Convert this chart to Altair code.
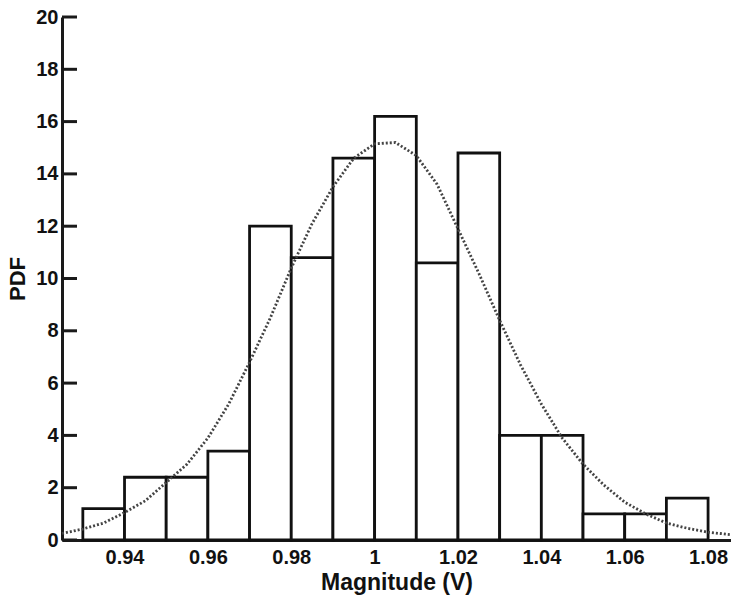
import altair as alt
import pandas as pd

bin_start = [0.93, 0.94, 0.95, 0.96, 0.97, 0.98, 0.99, 1.00, 1.01, 1.02, 1.03, 1.04, 1.05, 1.06, 1.07]
bin_end = [0.94, 0.95, 0.96, 0.97, 0.98, 0.99, 1.00, 1.01, 1.02, 1.03, 1.04, 1.05, 1.06, 1.07, 1.08]
pdf_values = [1.2, 2.4, 2.4, 3.4, 12.0, 10.8, 14.6, 16.2, 10.6, 14.8, 4.0, 4.0, 1.0, 1.0, 1.6]

curve_x = [0.925, 0.930, 0.935, 0.940, 0.945, 0.950, 0.955, 0.960, 0.965, 0.970, 0.975,
           0.980, 0.985, 0.990, 0.995, 1.000, 1.005, 1.010, 1.015, 1.020, 1.025, 1.030,
           1.035, 1.040, 1.045, 1.050, 1.055, 1.060, 1.065, 1.070, 1.075, 1.080, 1.0855]
curve_y = [0.25, 0.42, 0.65, 1.05, 1.5, 2.2, 2.9, 3.9, 5.2, 6.8, 8.5,
           10.4, 12.1, 13.5, 14.6, 15.15, 15.2, 14.7, 13.6, 11.9, 10.2, 8.4,
           6.7, 5.2, 3.9, 2.9, 2.1, 1.45, 1.0, 0.65, 0.45, 0.3, 0.2]

y_ticks = [0, 2, 4, 6, 8, 10, 12, 14, 16, 18, 20]
x_ticks = [0.94, 0.96, 0.98, 1.00, 1.02, 1.04, 1.06, 1.08]

bars = pd.DataFrame({"x0": bin_start, "x1": bin_end, "pdf": pdf_values})
curve = pd.DataFrame({"x": curve_x, "y": curve_y})
ticks = pd.DataFrame({"t": y_ticks})

FONT = "Liberation Sans"
x_scale = alt.Scale(domain=[0.925, 1.0855], nice=False, zero=False)
y_scale = alt.Scale(domain=[0, 20], nice=False)

x_axis = alt.Axis(values=x_ticks, title="Magnitude (V)", grid=False, ticks=False,
                  labelFont=FONT, labelFontSize=20, labelFontWeight="bold", labelColor="#111",
                  labelPadding=7, labelExpr="datum.value == 1 ? '1' : format(datum.value, '.2f')",
                  titleFont=FONT, titleFontSize=23, titleFontWeight="bold", titleColor="#111",
                  titlePadding=4, domainColor="#1a1a1a", domainWidth=3)
y_axis = alt.Axis(values=y_ticks, title="PDF", grid=False, ticks=False,
                  labelFont=FONT, labelFontSize=20, labelFontWeight="bold", labelColor="#111",
                  labelPadding=4, titleFont=FONT, titleFontSize=22, titleFontWeight="bold",
                  titleColor="#111", titlePadding=6, domainColor="#1a1a1a", domainWidth=3)

bar_layer = alt.Chart(bars).mark_rect(fill="white", stroke="#111", strokeWidth=2.8).encode(
    x=alt.X("x0:Q", scale=x_scale, axis=x_axis),
    x2="x1:Q",
    y=alt.Y("pdf:Q", scale=y_scale, axis=y_axis),
    y2=alt.datum(0),
)

curve_layer = alt.Chart(curve).mark_line(stroke="#444", strokeWidth=2.8, strokeDash=[2, 2]).encode(
    x=alt.X("x:Q", scale=x_scale),
    y=alt.Y("y:Q", scale=y_scale),
)

tick_layer = alt.Chart(ticks).mark_rule(color="#1a1a1a", strokeWidth=3).encode(
    x=alt.value(0),
    x2=alt.value(15),
    y=alt.Y("t:Q", scale=y_scale),
)

chart = alt.layer(bar_layer, curve_layer, tick_layer).properties(
    width=669, height=523,
    autosize=alt.AutoSizeParams(type="none"),
    padding={"left": 62, "top": 17, "right": 0, "bottom": 60},
    background="white",
).configure_view(stroke=None)

chart.save("out.html", embed_options={"renderer": "svg", "actions": False})
